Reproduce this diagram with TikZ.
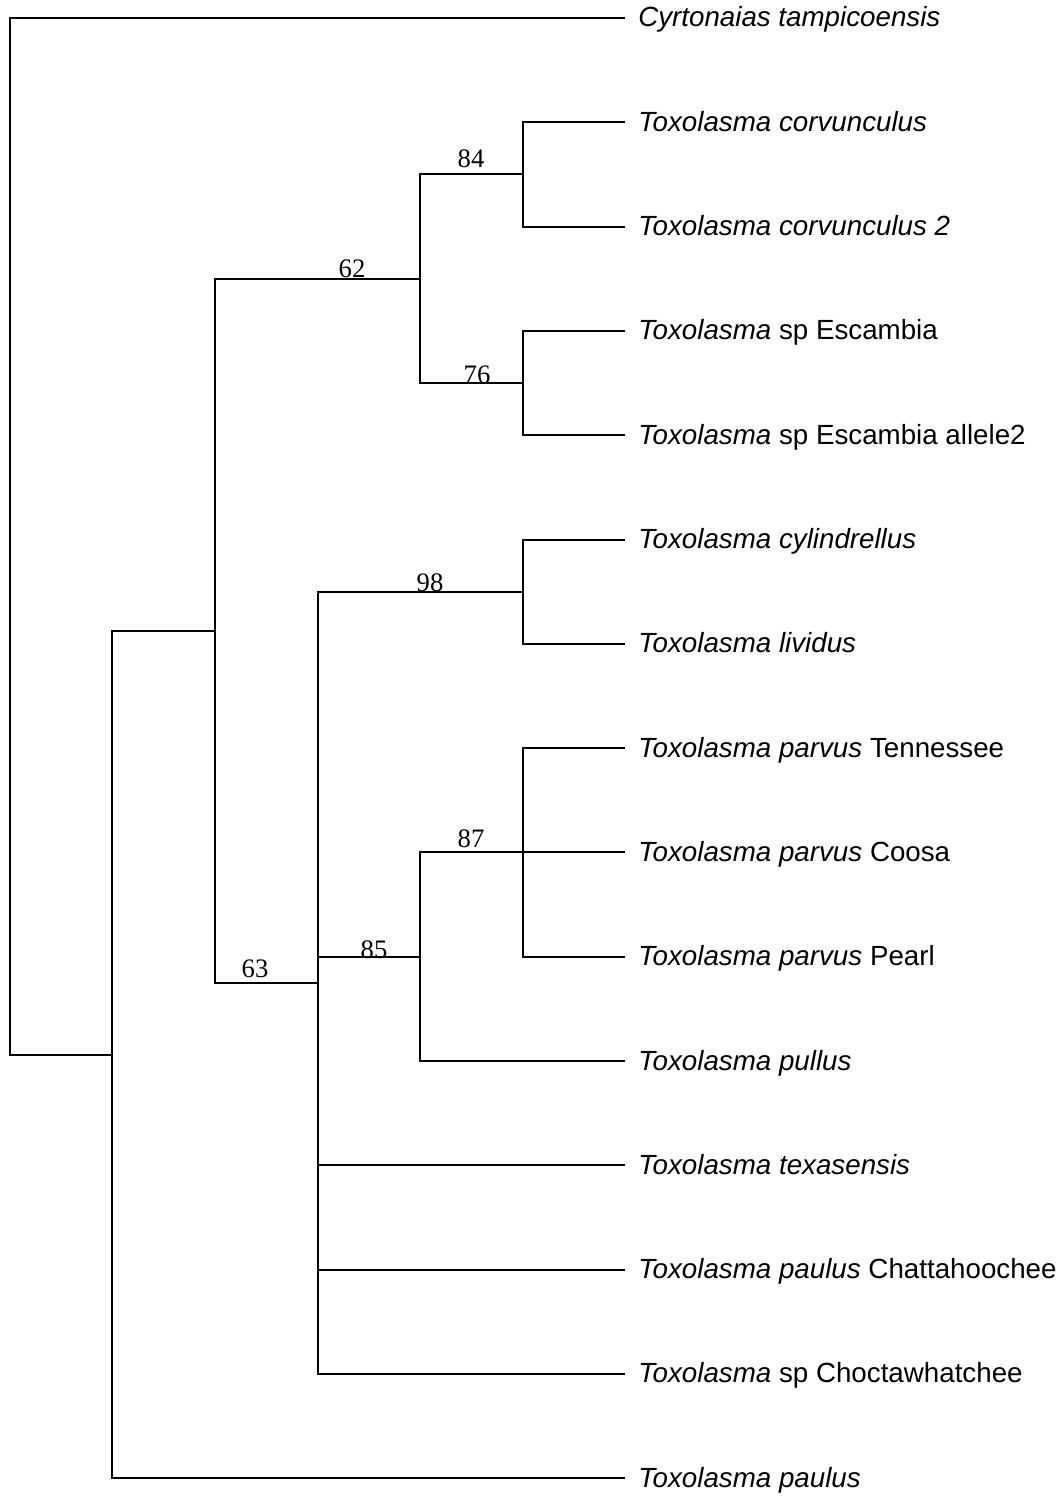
\documentclass[tikz,border=0pt]{standalone}
\usepackage{fontspec}
\setmainfont{Liberation Serif}
\newfontfamily\leaffont{Liberation Sans}
\begin{document}
\begin{tikzpicture}[x=0.75pt,y=-0.75pt,
  branch/.style={line width=1.5pt, line join=miter, draw=black},
  leaf/.style={anchor=base west, inner sep=0pt, font=\leaffont\fontsize{20.8}{24}\selectfont},
  num/.style={anchor=base, inner sep=0pt, font=\fontsize{20}{24}\selectfont}]
\useasboundingbox (0,0) rectangle (1060,1498);
% leaf tips
\foreach \i/\y in {0/18,1/122.3,2/226.6,3/330.9,4/435.2,5/539.5,6/643.8,7/748.1,8/852.4,9/956.7,10/1061,11/1165.3,12/1269.6,13/1373.9,14/1478.2}{
  \coordinate (t\i) at (625,\y);
}
% internal nodes
\coordinate (root) at (10,536.25);
\coordinate (n112) at (112,1054.5);
\coordinate (n215) at (215,630.8);
\coordinate (n62) at (420,278.75);
\coordinate (n84) at (523,174.45);
\coordinate (n76) at (523,383.05);
\coordinate (n63) at (318,982.8);
\coordinate (n98) at (523,591.65);
\coordinate (n85) at (420,956.7);
\coordinate (n87) at (523,852.4);
% branches
\draw[branch] (root) |- (t0);
\draw[branch] (root) |- (n112);
\draw[branch] (n112) |- (n215);
\draw[branch] (n112) |- (t14);
\draw[branch] (n215) |- (n62);
\draw[branch] (n215) |- (n63);
\draw[branch] (n62) |- (n84);
\draw[branch] (n62) |- (n76);
\draw[branch] (n84) |- (t1);
\draw[branch] (n84) |- (t2);
\draw[branch] (n76) |- (t3);
\draw[branch] (n76) |- (t4);
\draw[branch] (n63) |- (n98);
\draw[branch] (n63) |- (n85);
\draw[branch] (n63) |- (t11);
\draw[branch] (n63) |- (t12);
\draw[branch] (n63) |- (t13);
\draw[branch] (n98) |- (t5);
\draw[branch] (n98) |- (t6);
\draw[branch] (n85) |- (n87);
\draw[branch] (n85) |- (t10);
\draw[branch] (n87) |- (t7);
\draw[branch] (n87) |- (t8);
\draw[branch] (n87) |- (t9);
% support values
\node[num] (lab84) at (471,168) {84};
\node[num] (lab62) at (352,277) {62};
\node[num] (lab76) at (477,383) {76};
\node[num] (lab98) at (430,591) {98};
\node[num] (lab87) at (471,847) {87};
\node[num] (lab85) at (374,958) {85};
\node[num] (lab63) at (255,977) {63};
% leaf labels
\node[leaf] (L0) at (638,27) {\textit{Cyrtonaias tampicoensis}};
\node[leaf] (L1) at (638,131.3) {\textit{Toxolasma corvunculus}};
\node[leaf] (L2) at (638,235.6) {\textit{Toxolasma corvunculus 2}};
\node[leaf] (L3) at (638,339.9) {\textit{Toxolasma} sp Escambia};
\node[leaf] (L4) at (638,444.2) {\textit{Toxolasma} sp Escambia allele2};
\node[leaf] (L5) at (638,548.5) {\textit{Toxolasma cylindrellus}};
\node[leaf] (L6) at (638,652.8) {\textit{Toxolasma lividus}};
\node[leaf] (L7) at (638,757.1) {\textit{Toxolasma parvus} Tennessee};
\node[leaf] (L8) at (638,861.4) {\textit{Toxolasma parvus} Coosa};
\node[leaf] (L9) at (638,965.7) {\textit{Toxolasma parvus} Pearl};
\node[leaf] (L10) at (638,1070) {\textit{Toxolasma pullus}};
\node[leaf] (L11) at (638,1174.3) {\textit{Toxolasma texasensis}};
\node[leaf] (L12) at (638,1278.6) {\textit{Toxolasma paulus} Chattahoochee};
\node[leaf] (L13) at (638,1382.9) {\textit{Toxolasma} sp Choctawhatchee};
\node[leaf] (L14) at (638,1487.2) {\textit{Toxolasma paulus}};
\end{tikzpicture}
\end{document}
